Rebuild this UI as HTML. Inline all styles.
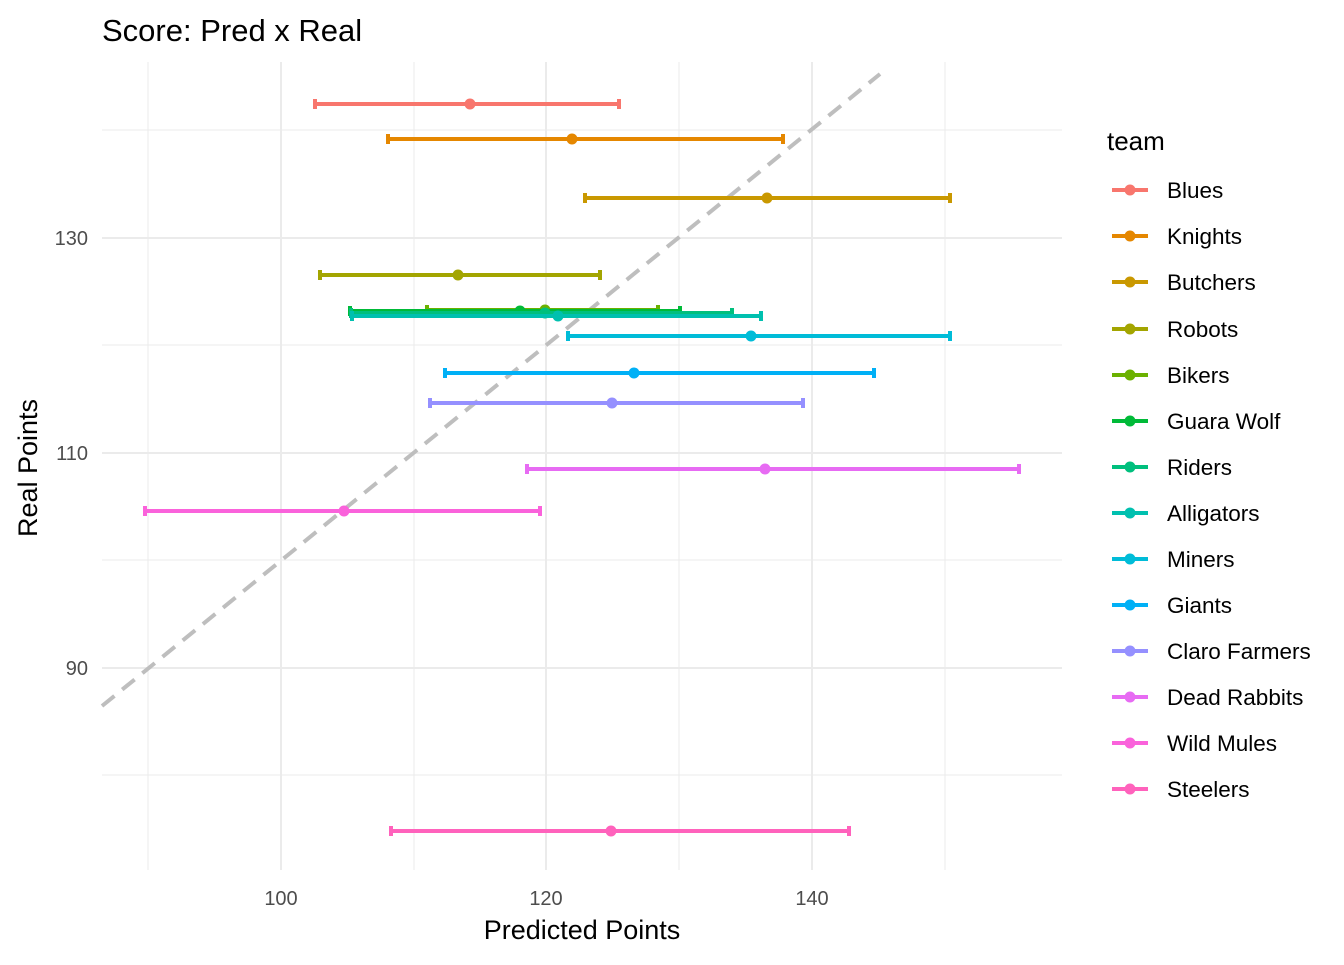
<!DOCTYPE html>
<html><head><style>body{margin:0;background:#fff}</style></head><body>
<svg width="1344" height="960" xmlns="http://www.w3.org/2000/svg" font-family="Liberation Sans, sans-serif">
<rect width="1344" height="960" fill="#fff"/>
<g stroke="#ebebeb" stroke-width="1">
<line x1="148" y1="62" x2="148" y2="870"/><line x1="414" y1="62" x2="414" y2="870"/><line x1="679" y1="62" x2="679" y2="870"/><line x1="945" y1="62" x2="945" y2="870"/>
<line x1="102" y1="130" x2="1062" y2="130"/><line x1="102" y1="345" x2="1062" y2="345"/><line x1="102" y1="560" x2="1062" y2="560"/><line x1="102" y1="775" x2="1062" y2="775"/>
</g>
<g stroke="#ebebeb" stroke-width="2">
<line x1="281" y1="62" x2="281" y2="870"/><line x1="546" y1="62" x2="546" y2="870"/><line x1="812" y1="62" x2="812" y2="870"/>
<line x1="102" y1="238" x2="1062" y2="238"/><line x1="102" y1="453" x2="1062" y2="453"/><line x1="102" y1="668" x2="1062" y2="668"/>
</g>
<line x1="102" y1="706" x2="880" y2="74" stroke="#bebebe" stroke-width="4" stroke-dasharray="16,10"/>
<g stroke-width="4">
<g stroke="#F8766D" fill="#F8766D"><line x1="315" y1="104" x2="619" y2="104"/><line x1="315" y1="99" x2="315" y2="109"/><line x1="619" y1="99" x2="619" y2="109"/><circle cx="470" cy="104" r="5.5" stroke="none"/></g>
<g stroke="#E58700" fill="#E58700"><line x1="388" y1="139" x2="783" y2="139"/><line x1="388" y1="134" x2="388" y2="144"/><line x1="783" y1="134" x2="783" y2="144"/><circle cx="572" cy="139" r="5.5" stroke="none"/></g>
<g stroke="#C99800" fill="#C99800"><line x1="585" y1="198" x2="950" y2="198"/><line x1="585" y1="193" x2="585" y2="203"/><line x1="950" y1="193" x2="950" y2="203"/><circle cx="767" cy="198" r="5.5" stroke="none"/></g>
<g stroke="#A3A500" fill="#A3A500"><line x1="320" y1="275" x2="600" y2="275"/><line x1="320" y1="270" x2="320" y2="280"/><line x1="600" y1="270" x2="600" y2="280"/><circle cx="458" cy="275" r="5.5" stroke="none"/></g>
<g stroke="#6BB100" fill="#6BB100"><line x1="427" y1="310" x2="658" y2="310"/><line x1="427" y1="305" x2="427" y2="315"/><line x1="658" y1="305" x2="658" y2="315"/><circle cx="545" cy="310" r="5.5" stroke="none"/></g>
<g stroke="#00BA38" fill="#00BA38"><line x1="350" y1="311" x2="680" y2="311"/><line x1="350" y1="306" x2="350" y2="316"/><line x1="680" y1="306" x2="680" y2="316"/><circle cx="520" cy="311" r="5.5" stroke="none"/></g>
<g stroke="#00BF7D" fill="#00BF7D"><line x1="351" y1="313" x2="732" y2="313"/><line x1="351" y1="308" x2="351" y2="318"/><line x1="732" y1="308" x2="732" y2="318"/><circle cx="545" cy="313" r="5.5" stroke="none"/></g>
<g stroke="#00C0AF" fill="#00C0AF"><line x1="352" y1="316" x2="761" y2="316"/><line x1="352" y1="311" x2="352" y2="321"/><line x1="761" y1="311" x2="761" y2="321"/><circle cx="558" cy="316" r="5.5" stroke="none"/></g>
<g stroke="#00BCD8" fill="#00BCD8"><line x1="568" y1="336" x2="950" y2="336"/><line x1="568" y1="331" x2="568" y2="341"/><line x1="950" y1="331" x2="950" y2="341"/><circle cx="751" cy="336" r="5.5" stroke="none"/></g>
<g stroke="#00B0F6" fill="#00B0F6"><line x1="445" y1="373" x2="874" y2="373"/><line x1="445" y1="368" x2="445" y2="378"/><line x1="874" y1="368" x2="874" y2="378"/><circle cx="634" cy="373" r="5.5" stroke="none"/></g>
<g stroke="#9590FF" fill="#9590FF"><line x1="430" y1="403" x2="803" y2="403"/><line x1="430" y1="398" x2="430" y2="408"/><line x1="803" y1="398" x2="803" y2="408"/><circle cx="612" cy="403" r="5.5" stroke="none"/></g>
<g stroke="#E76BF3" fill="#E76BF3"><line x1="527" y1="469" x2="1019" y2="469"/><line x1="527" y1="464" x2="527" y2="474"/><line x1="1019" y1="464" x2="1019" y2="474"/><circle cx="765" cy="469" r="5.5" stroke="none"/></g>
<g stroke="#FA62DB" fill="#FA62DB"><line x1="145" y1="511" x2="540" y2="511"/><line x1="145" y1="506" x2="145" y2="516"/><line x1="540" y1="506" x2="540" y2="516"/><circle cx="344" cy="511" r="5.5" stroke="none"/></g>
<g stroke="#FF62BC" fill="#FF62BC"><line x1="391" y1="831" x2="849" y2="831"/><line x1="391" y1="826" x2="391" y2="836"/><line x1="849" y1="826" x2="849" y2="836"/><circle cx="611" cy="831" r="5.5" stroke="none"/></g>
</g>
<g font-size="20" fill="#4d4d4d">
<text x="281" y="905" text-anchor="middle">100</text><text x="546" y="905" text-anchor="middle">120</text><text x="812" y="905" text-anchor="middle">140</text>
<text x="88" y="245" text-anchor="end">130</text><text x="88" y="460" text-anchor="end">110</text><text x="88" y="675" text-anchor="end">90</text>
</g>
<text x="582" y="939" font-size="27" text-anchor="middle" fill="#000">Predicted Points</text>
<text transform="translate(37,468) rotate(-90)" font-size="27" text-anchor="middle" fill="#000">Real Points</text>
<text x="102" y="41" font-size="31" fill="#000">Score: Pred x Real</text>
<text x="1107" y="150" font-size="26" fill="#000">team</text>
<g font-size="22.5" fill="#000" stroke-width="4">
<g stroke="#F8766D" fill="#F8766D"><line x1="1112" y1="190" x2="1148" y2="190"/><circle cx="1130" cy="190" r="5.5" stroke="none"/></g><text x="1167" y="198">Blues</text>
<g stroke="#E58700" fill="#E58700"><line x1="1112" y1="236" x2="1148" y2="236"/><circle cx="1130" cy="236" r="5.5" stroke="none"/></g><text x="1167" y="244">Knights</text>
<g stroke="#C99800" fill="#C99800"><line x1="1112" y1="282" x2="1148" y2="282"/><circle cx="1130" cy="282" r="5.5" stroke="none"/></g><text x="1167" y="290">Butchers</text>
<g stroke="#A3A500" fill="#A3A500"><line x1="1112" y1="329" x2="1148" y2="329"/><circle cx="1130" cy="329" r="5.5" stroke="none"/></g><text x="1167" y="337">Robots</text>
<g stroke="#6BB100" fill="#6BB100"><line x1="1112" y1="375" x2="1148" y2="375"/><circle cx="1130" cy="375" r="5.5" stroke="none"/></g><text x="1167" y="383">Bikers</text>
<g stroke="#00BA38" fill="#00BA38"><line x1="1112" y1="421" x2="1148" y2="421"/><circle cx="1130" cy="421" r="5.5" stroke="none"/></g><text x="1167" y="429">Guara Wolf</text>
<g stroke="#00BF7D" fill="#00BF7D"><line x1="1112" y1="467" x2="1148" y2="467"/><circle cx="1130" cy="467" r="5.5" stroke="none"/></g><text x="1167" y="475">Riders</text>
<g stroke="#00C0AF" fill="#00C0AF"><line x1="1112" y1="513" x2="1148" y2="513"/><circle cx="1130" cy="513" r="5.5" stroke="none"/></g><text x="1167" y="521">Alligators</text>
<g stroke="#00BCD8" fill="#00BCD8"><line x1="1112" y1="559" x2="1148" y2="559"/><circle cx="1130" cy="559" r="5.5" stroke="none"/></g><text x="1167" y="567">Miners</text>
<g stroke="#00B0F6" fill="#00B0F6"><line x1="1112" y1="605" x2="1148" y2="605"/><circle cx="1130" cy="605" r="5.5" stroke="none"/></g><text x="1167" y="613">Giants</text>
<g stroke="#9590FF" fill="#9590FF"><line x1="1112" y1="651" x2="1148" y2="651"/><circle cx="1130" cy="651" r="5.5" stroke="none"/></g><text x="1167" y="659">Claro Farmers</text>
<g stroke="#E76BF3" fill="#E76BF3"><line x1="1112" y1="697" x2="1148" y2="697"/><circle cx="1130" cy="697" r="5.5" stroke="none"/></g><text x="1167" y="705">Dead Rabbits</text>
<g stroke="#FA62DB" fill="#FA62DB"><line x1="1112" y1="743" x2="1148" y2="743"/><circle cx="1130" cy="743" r="5.5" stroke="none"/></g><text x="1167" y="751">Wild Mules</text>
<g stroke="#FF62BC" fill="#FF62BC"><line x1="1112" y1="789" x2="1148" y2="789"/><circle cx="1130" cy="789" r="5.5" stroke="none"/></g><text x="1167" y="797">Steelers</text>
</g>
</svg>
</body></html>
